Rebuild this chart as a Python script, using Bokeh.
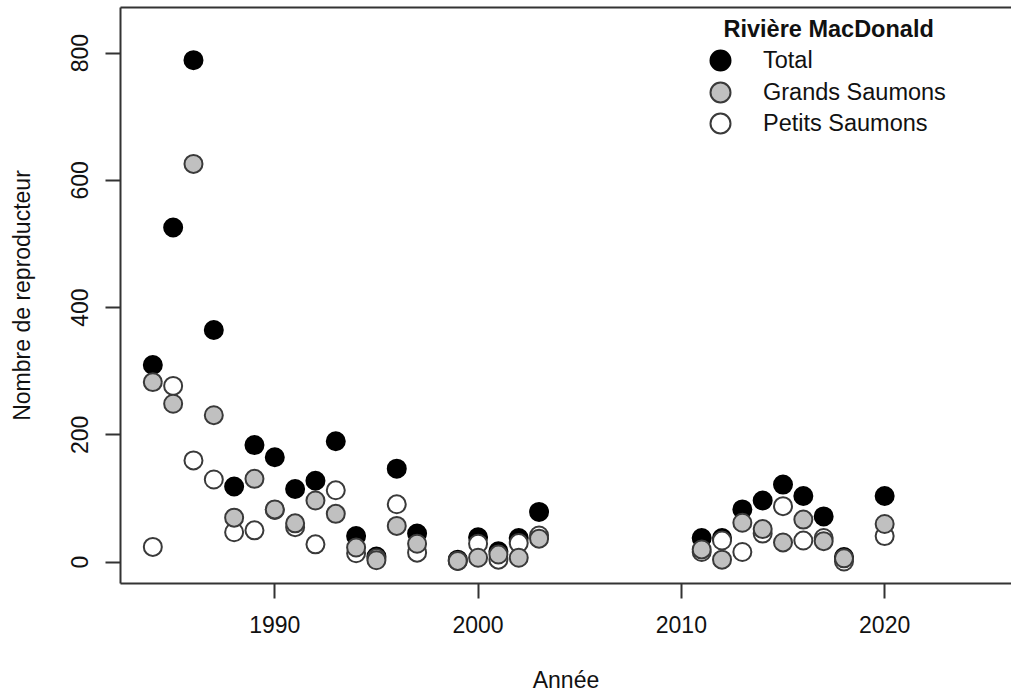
from bokeh.plotting import figure
from bokeh.models import Range1d, FixedTicker, LinearAxis, Legend, LegendItem, Label, ColumnDataSource
from bokeh.embed import file_html
from bokeh.resources import INLINE

# ---- data ----
years = [1984, 1985, 1986, 1987, 1988, 1989, 1990, 1991, 1992, 1993, 1994, 1995, 1996, 1997,
         1999, 2000, 2001, 2002, 2003, 2011, 2012, 2013, 2014, 2015, 2016, 2017, 2018, 2020]
total = [310, 526, 789, 365, 119, 184, 165, 115, 128, 190, 41, 9, 147, 45,
         4, 39, 17, 38, 79, 38, 38, 83, 97, 122, 104, 72, 8, 104]
grands = [283, 249, 626, 231, 70, 131, 83, 61, 97, 76, 23, 3, 57, 29,
          2, 7, 12, 7, 37, 20, 4, 62, 52, 31, 67, 33, 6, 60]
petits = [24, 277, 160, 130, 47, 50, 82, 55, 28, 113, 14, 6, 91, 15,
          2, 29, 4, 30, 42, 16, 34, 16, 45, 88, 34, 38, 1, 41]

x_ticks = [1990, 2000, 2010, 2020]
y_ticks = [0, 200, 400, 600, 800]

legend_title = "Rivière MacDonald"
series_labels = ["Total", "Grands Saumons", "Petits Saumons"]

FONT = "Liberation Sans"
AX = "#333333"
TXT = "#111111"

src = ColumnDataSource(dict(year=years, total=total, grands=grands, petits=petits))

p = figure(width=1011, height=698, output_backend="svg", toolbar_location=None,
           x_range=Range1d(1982.41, 2026.24), y_range=Range1d(-33.5, 871.8),
           min_border_left=120, min_border_right=0, min_border_top=7, min_border_bottom=115)
p.outline_line_color = None
p.grid.visible = False
p.background_fill_color = "white"
p.border_fill_color = "white"

r_total = p.scatter("year", "total", source=src, size=18, fill_color="black",
                    line_color="black", line_width=2)
r_petits = p.scatter("year", "petits", source=src, size=18, fill_color="white",
                     line_color="#3a3a3a", line_width=2)
r_grands = p.scatter("year", "grands", source=src, size=18, fill_color="#c0c0c0",
                     line_color="#3a3a3a", line_width=2)

for ax, ticks in ((p.xaxis[0], x_ticks), (p.yaxis[0], y_ticks)):
    ax.ticker = FixedTicker(ticks=ticks)
    ax.minor_tick_line_color = None
    ax.major_tick_in = 0
    ax.major_tick_out = 15
    ax.major_tick_line_color = AX
    ax.major_tick_line_width = 2
    ax.axis_line_color = AX
    ax.axis_line_width = 2
    ax.major_label_text_font = FONT
    ax.major_label_text_font_size = "23px"
    ax.major_label_text_color = TXT
    ax.major_label_standoff = 17
    ax.axis_label_text_font = FONT
    ax.axis_label_text_font_size = "23px"
    ax.axis_label_text_font_style = "normal"
    ax.axis_label_text_color = TXT

p.xaxis[0].axis_label = "Année"
p.xaxis[0].axis_label_standoff = 31
p.yaxis[0].axis_label = "Nombre de reproducteur"
p.yaxis[0].axis_label_standoff = 34
p.yaxis[0].major_label_orientation = "vertical"

top_axis = LinearAxis(ticker=FixedTicker(ticks=[]), axis_line_color=AX, axis_line_width=2,
                      major_tick_out=0, major_tick_in=0, major_label_standoff=0,
                      minor_tick_line_color=None, major_tick_line_color=None,
                      major_label_text_font_size="0px")
p.add_layout(top_axis, "above")

renderers = [r_total, r_grands, r_petits]
legend_y = [498, 466, 435]
for lab, rend, ly in zip(series_labels, renderers, legend_y):
    lg = Legend(items=[LegendItem(label=lab, renderers=[rend])],
                location=(575, ly), glyph_width=50, glyph_height=50,
                padding=0, margin=0, label_standoff=18,
                label_text_font=FONT, label_text_font_size="23.5px", label_text_color=TXT,
                background_fill_alpha=0, border_line_color=None)
    p.add_layout(lg)

p.add_layout(Label(x=603, y=555, x_units="screen", y_units="screen", text=legend_title,
                   text_font=FONT, text_font_size="23.5px", text_font_style="bold",
                   text_color=TXT, text_baseline="middle"))

open("out.html", "w").write(file_html(p, INLINE))
